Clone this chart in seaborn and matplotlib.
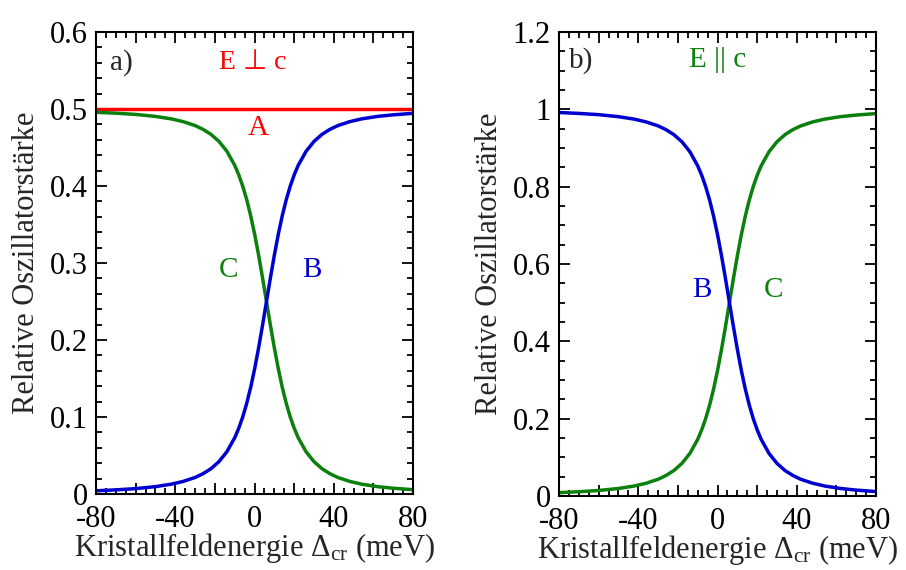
import matplotlib
matplotlib.use("Agg")
import matplotlib.pyplot as plt
import seaborn as sns
from matplotlib.ticker import MultipleLocator, FuncFormatter

# Kristallfeldenergie (meV)
x_meV = [-80, -70, -60, -50, -42, -36, -30, -26, -22, -18, -14, -10, -8, -6, -4, -2,
         0, 2, 4, 6, 8, 10, 12, 14, 16, 18, 20, 22, 26, 30, 34, 38, 42, 48, 54, 62, 70, 80]

# a) E perpendicular c
a_A = [0.5] * len(x_meV)
a_B = [0.0042, 0.0054, 0.0070, 0.0096, 0.0128, 0.0164, 0.0215, 0.0264, 0.0329, 0.0420,
       0.0548, 0.0732, 0.0854, 0.1000, 0.1175, 0.1382, 0.1622, 0.1894, 0.2190, 0.2500,
       0.2810, 0.3106, 0.3378, 0.3618, 0.3825, 0.4000, 0.4146, 0.4268, 0.4452, 0.4580,
       0.4671, 0.4736, 0.4785, 0.4836, 0.4872, 0.4904, 0.4925, 0.4944]
a_C = [0.4958, 0.4946, 0.4930, 0.4904, 0.4872, 0.4836, 0.4785, 0.4736, 0.4671, 0.4580,
       0.4452, 0.4268, 0.4146, 0.4000, 0.3825, 0.3618, 0.3378, 0.3106, 0.2810, 0.2500,
       0.2190, 0.1894, 0.1622, 0.1382, 0.1175, 0.1000, 0.0854, 0.0732, 0.0548, 0.0420,
       0.0329, 0.0264, 0.0215, 0.0164, 0.0128, 0.0096, 0.0075, 0.0056]

# b) E parallel c
b_B = [0.9916, 0.9892, 0.9860, 0.9808, 0.9744, 0.9672, 0.9570, 0.9472, 0.9342, 0.9160,
       0.8904, 0.8536, 0.8292, 0.8000, 0.7650, 0.7236, 0.6756, 0.6212, 0.5620, 0.5000,
       0.4380, 0.3788, 0.3244, 0.2764, 0.2350, 0.2000, 0.1708, 0.1464, 0.1096, 0.0840,
       0.0658, 0.0528, 0.0430, 0.0328, 0.0256, 0.0192, 0.0150, 0.0112]
b_C = [0.0084, 0.0108, 0.0140, 0.0192, 0.0256, 0.0328, 0.0430, 0.0528, 0.0658, 0.0840,
       0.1096, 0.1464, 0.1708, 0.2000, 0.2350, 0.2764, 0.3244, 0.3788, 0.4380, 0.5000,
       0.5620, 0.6212, 0.6756, 0.7236, 0.7650, 0.8000, 0.8292, 0.8536, 0.8904, 0.9160,
       0.9342, 0.9472, 0.9570, 0.9672, 0.9744, 0.9808, 0.9850, 0.9888]

RED = "#ff0000"
GREEN = "#0c800c"
BLUE = "#0000d0"

sns.set_style("ticks")
plt.rcParams["font.family"] = ["Liberation Serif", "DejaVu Serif"]
plt.rcParams["mathtext.fontset"] = "custom"
plt.rcParams["mathtext.rm"] = "Liberation Serif"
plt.rcParams["mathtext.it"] = "Liberation Serif:italic"
plt.rcParams["font.size"] = 22

fig = plt.figure(figsize=(9.06, 5.70), dpi=100)
ax1 = fig.add_axes([0.106, 0.1333, 0.350, 0.8105])
ax2 = fig.add_axes([0.617, 0.1300, 0.350, 0.8140])

lw = 2.5
sns.lineplot(x=x_meV, y=a_A, ax=ax1, color=RED, lw=lw)
sns.lineplot(x=x_meV, y=a_C, ax=ax1, color=GREEN, lw=lw)
sns.lineplot(x=x_meV, y=a_B, ax=ax1, color=BLUE, lw=lw)

sns.lineplot(x=x_meV, y=b_C, ax=ax2, color=GREEN, lw=lw)
sns.lineplot(x=x_meV, y=b_B, ax=ax2, color=BLUE, lw=lw)


def xfmt(v, pos):
    return f"{v:g}" if round(v) % 40 == 0 else ""


for ax, ymax, ymaj, ymin in [(ax1, 0.6, 0.1, 0.02), (ax2, 1.2, 0.2, 0.05)]:
    ax.set_xlim(-80, 80)
    ax.set_ylim(0, ymax)
    ax.xaxis.set_major_locator(MultipleLocator(20))
    ax.xaxis.set_minor_locator(MultipleLocator(5))
    ax.xaxis.set_major_formatter(FuncFormatter(xfmt))
    ax.yaxis.set_major_locator(MultipleLocator(ymaj))
    ax.yaxis.set_minor_locator(MultipleLocator(ymin))
    ax.yaxis.set_major_formatter(FuncFormatter(lambda v, p: f"{round(v, 2):g}"))
    ax.tick_params(which="both", direction="in", top=True, right=True,
                   width=1.3, labelsize=22, colors="black")
    ax.tick_params(which="major", length=8)
    ax.tick_params(axis="y", which="major", pad=6)
    ax.tick_params(axis="x", which="major", pad=8)
    ax.tick_params(which="minor", length=4)
    for sp in ax.spines.values():
        sp.set_visible(True)
        sp.set_linewidth(1.5)
        sp.set_color("black")
    ax.set_xlabel(r"Kristallfeldenergie $\Delta_{\mathrm{cr}}$ (meV)", fontsize=22, labelpad=-2)
    ax.set_ylabel("Relative Oszillatorstärke", fontsize=22, labelpad=6)

ax1.text(-73, 0.56, "a)", fontsize=21, va="center", ha="left")
ax1.text(-1, 0.56, "E ⊥ c", fontsize=20, color=RED, va="center", ha="center",
         family=["Liberation Serif", "DejaVu Sans"])
ax1.text(2, 0.475, "A", fontsize=21, color=RED, va="center", ha="center")
ax1.text(-13, 0.291, "C", fontsize=21, color=GREEN, va="center", ha="center")
ax1.text(29, 0.291, "B", fontsize=21, color=BLUE, va="center", ha="center")

ax2.text(-75, 1.127, "b)", fontsize=21, va="center", ha="left")
ax2.text(0, 1.127, "E || c", fontsize=21, color=GREEN, va="center", ha="center")
ax2.text(-8, 0.533, "B", fontsize=21, color=BLUE, va="center", ha="center")
ax2.text(28, 0.533, "C", fontsize=21, color=GREEN, va="center", ha="center")

fig.savefig("out.png", dpi=100)
